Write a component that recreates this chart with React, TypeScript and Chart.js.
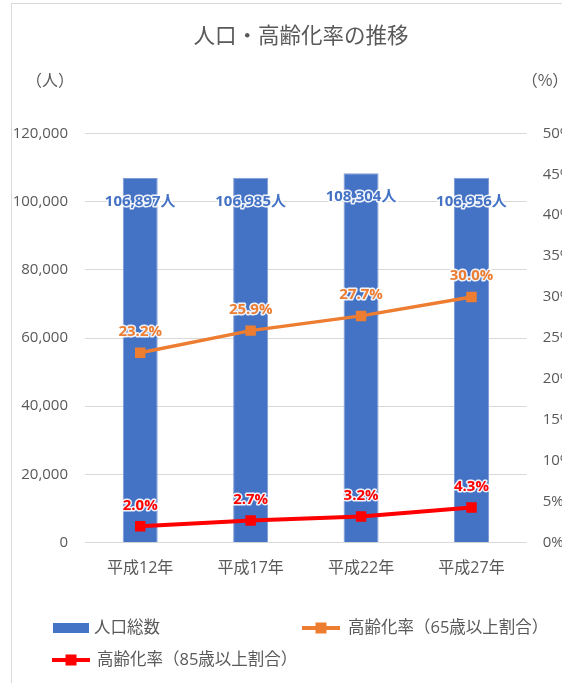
import React, { useEffect, useRef } from "react";
import { Chart, registerables } from "chart.js";

Chart.register(...registerables);

const chartTitle = "人口・高齢化率の推移";
const leftUnit = "（人）";
const rightUnit = "（%）";
const categories = ["平成12年", "平成17年", "平成22年", "平成27年"];
const populationLabel = "人口総数";
const aging65Label = "高齢化率（65歳以上割合）";
const aging85Label = "高齢化率（85歳以上割合）";
const population = [106897, 106985, 108304, 106956];
const aging65 = [23.2, 25.9, 27.7, 30.0];
const aging85 = [2.0, 2.7, 3.2, 4.3];

const BLUE = "#4472C4";
const ORANGE = "#ED7D31";
const RED = "#FF0000";
const GRAY = "#595959";
const FONT = "'Open Sans', 'Noto Sans CJK JP', sans-serif";
const CJK = "'Noto Sans CJK JP', sans-serif";

const W = 590;
const H = 690;

const dataLabels = {
  id: "dataLabels",
  afterDatasetsDraw(chart: any) {
    const ctx = chart.ctx;
    ctx.save();
    ctx.textAlign = "center";
    ctx.textBaseline = "middle";
    ctx.lineJoin = "round";
    chart.data.datasets.forEach((ds: any, i: number) => {
      const meta = chart.getDatasetMeta(i);
      meta.data.forEach((el: any, j: number) => {
        const v = ds.data[j];
        let text: string;
        let y: number;
        if (ds.type === "bar") {
          text = v.toLocaleString("en-US") + "人";
          y = el.y + 24;
        } else {
          text = v.toFixed(1) + "%";
          y = el.y - 21;
        }
        ctx.font = `bold 15px ${FONT}`;
        ctx.lineWidth = 3;
        ctx.strokeStyle = "rgba(255,255,255,0.9)";
        ctx.strokeText(text, el.x, y);
        ctx.fillStyle = ds.labelColor;
        ctx.fillText(text, el.x, y);
      });
    });
    ctx.restore();
  },
};

const decorations = {
  id: "decorations",
  afterDraw(chart: any) {
    const ctx = chart.ctx;
    const ds = chart.data.datasets;
    ctx.save();
    ctx.fillStyle = GRAY;
    ctx.textBaseline = "middle";
    ctx.textAlign = "center";
    ctx.font = `21.5px ${CJK}`;
    ctx.fillText(chartTitle, 289, 31);
    ctx.font = `16px ${CJK}`;
    ctx.fillText(leftUnit, 38, 76);
    ctx.fillText(rightUnit, 533, 76);

    // legend
    ctx.textAlign = "left";
    ctx.font = `16.5px ${FONT}`;
    ctx.fillStyle = ds[0].backgroundColor;
    ctx.fillRect(41, 619, 36, 10);
    ctx.fillStyle = GRAY;
    ctx.fillText(ds[0].label, 82, 624);

    const lineItem = (d: any, x: number, y: number, tx: number) => {
      ctx.strokeStyle = d.borderColor;
      ctx.lineWidth = 4;
      ctx.beginPath();
      ctx.moveTo(x, y);
      ctx.lineTo(x + 38, y);
      ctx.stroke();
      ctx.fillStyle = d.borderColor;
      ctx.fillRect(x + 19 - 5.5, y - 5.5, 11, 11);
      ctx.fillStyle = GRAY;
      ctx.fillText(d.label, tx, y);
    };
    lineItem(ds[1], 290, 624, 336);
    lineItem(ds[2], 40, 656, 85);
    ctx.restore();
  },
};

export default function App() {
  const ref = useRef<HTMLCanvasElement | null>(null);

  useEffect(() => {
    if (!ref.current) return;
    Chart.defaults.font.family = FONT;
    const chart = new Chart(ref.current, {
      type: "bar",
      data: {
        labels: categories,
        datasets: [
          {
            type: "bar",
            label: populationLabel,
            data: population,
            backgroundColor: BLUE,
            borderColor: "#7F9CD6",
            borderWidth: 1,
            barPercentage: 0.317,
            categoryPercentage: 1,
            yAxisID: "y",
            order: 3,
            labelColor: BLUE,
          } as any,
          {
            type: "line",
            label: aging65Label,
            data: aging65,
            borderColor: ORANGE,
            backgroundColor: ORANGE,
            borderWidth: 3.5,
            pointStyle: "rect",
            pointRadius: 7.4,
            pointBackgroundColor: ORANGE,
            pointBorderColor: ORANGE,
            pointBorderWidth: 0,
            yAxisID: "y2",
            order: 2,
            labelColor: ORANGE,
          } as any,
          {
            type: "line",
            label: aging85Label,
            data: aging85,
            borderColor: RED,
            backgroundColor: RED,
            borderWidth: 4,
            pointStyle: "rect",
            pointRadius: 7.4,
            pointBackgroundColor: RED,
            pointBorderColor: RED,
            pointBorderWidth: 0,
            yAxisID: "y2",
            order: 1,
            labelColor: RED,
          } as any,
        ],
      },
      options: {
        responsive: false,
        animation: false,
        devicePixelRatio: 1,
        layout: { padding: { top: 129.3, bottom: 111.3, left: 0, right: 0 } },
        plugins: {
          legend: { display: false },
          title: { display: false },
          tooltip: { enabled: false },
        },
        scales: {
          x: {
            grid: { display: false },
            border: { display: false },
            ticks: { color: GRAY, font: { size: 16, family: FONT }, padding: 8 },
            afterFit: (s: any) => {
              s.height = 40;
            },
          },
          y: {
            position: "left",
            min: 0,
            max: 120000,
            ticks: {
              stepSize: 20000,
              color: GRAY,
              font: { size: 15, family: FONT },
              padding: 17,
              callback: (v: any) => Number(v).toLocaleString("en-US"),
            },
            grid: { color: "#D9D9D9", lineWidth: 1, drawTicks: false },
            border: { display: false },
            afterFit: (s: any) => {
              s.width = 73;
            },
          },
          y2: {
            position: "right",
            min: 0,
            max: 50,
            ticks: {
              stepSize: 5,
              color: GRAY,
              font: { size: 15, family: FONT },
              padding: 16,
              callback: (v: any) => `${v}%`,
            },
            grid: { display: false, drawTicks: false },
            border: { display: false },
            afterFit: (s: any) => {
              s.width = W - 514.7;
            },
          },
        },
      } as any,
      plugins: [dataLabels, decorations],
    });
    return () => chart.destroy();
  }, []);

  return (
    <div
      style={{
        position: "fixed",
        left: 0,
        top: 0,
        width: 562,
        height: 683,
        overflow: "hidden",
        background: "#fff",
      }}
    >
      <div
        style={{
          position: "absolute",
          left: 11,
          top: 3,
          width: W,
          height: H,
          border: "1px solid #D9D9D9",
          background: "#fff",
        }}
      >
        <canvas ref={ref} width={W} height={H} style={{ display: "block", width: W, height: H }} />
      </div>
    </div>
  );
}
